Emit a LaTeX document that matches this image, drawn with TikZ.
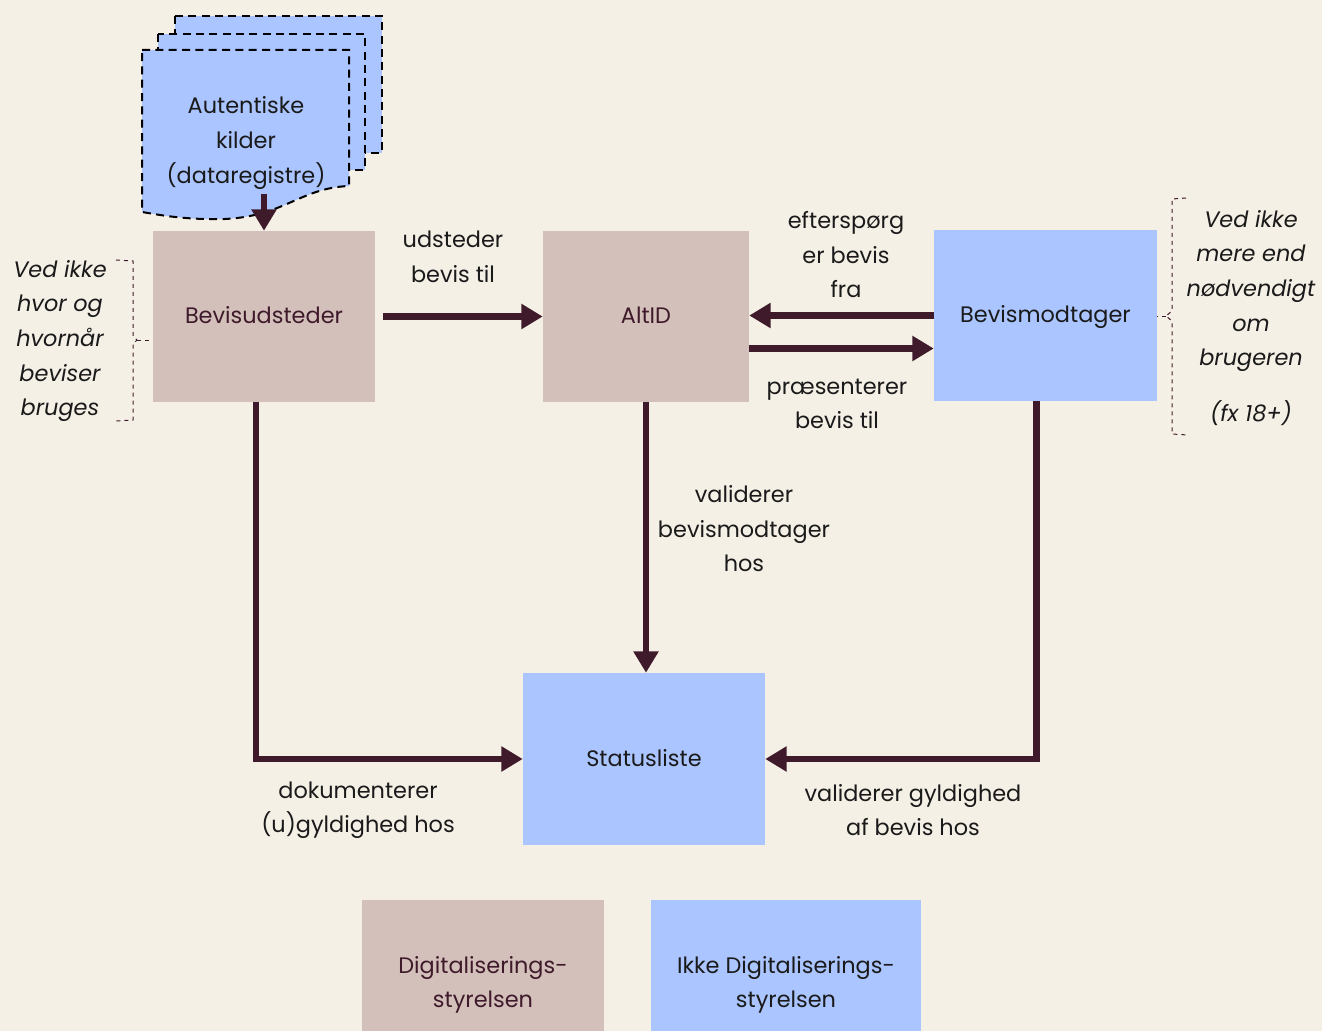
\documentclass[tikz,border=0pt]{standalone}
\usepackage{fontspec}
\setmainfont{Poppins}
\usetikzlibrary{arrows.meta,positioning,calc}
\definecolor{bgcol}{HTML}{F5F0E6}
\definecolor{brunbg}{HTML}{D3C0BB}
\definecolor{blaabg}{HTML}{AAC5FF}
\definecolor{pil}{HTML}{3F1A2A}
\definecolor{tekst}{HTML}{1A1A1A}
\tikzset{
  basefont/.style={font=\fontsize{16.8pt}{25.9pt}\selectfont},
  intern/.style={basefont, fill=brunbg, text=pil, align=center, minimum height=128.25pt, inner sep=0pt},
  ekstern/.style={basefont, fill=blaabg, text=tekst, align=center, minimum height=128.25pt, inner sep=0pt},
  enlinje/.style={text height=1.1em, text depth=0pt},
  lbl/.style={basefont, align=center, text=tekst},
  note/.style={font=\fontsize{16.8pt}{25.9pt}\selectfont\itshape, align=center, text=tekst},
  pilvej/.style={-{Triangle[length=16pt,width=18pt]}, line width=5pt, draw=pil},
  kant/.style={draw=pil, dashed, line width=0.75pt},
  ark/.style={fill=blaabg, draw=black, line width=1.5pt, dash pattern=on 6pt off 4pt},
}

\begin{document}
\begin{tikzpicture}[x=0.75pt, y=-0.75pt]
\fill[bgcol] (0,0) rectangle (1322,1031);
\useasboundingbox (0,0) rectangle (1322,1031);

% kilder (stak af dokumenter)
\draw[ark] (175,16) rectangle (382,153);
\draw[ark] (158,34) rectangle (365,170);
\draw[ark] (142,50) -- (349,50) -- (349,186)
  .. controls (300,188) and (285,216) .. (225,219)
  .. controls (185,220) and (160,215) .. (142,212) -- cycle;
\node[lbl] (kilder) at (246,143) {Autentiske\\kilder\\(dataregistre)};
\coordinate (kilderbund) at (264,194);

% aktoerer
\node[intern, enlinje, minimum width=166.5pt] (udsteder) at (264,316.5) {Bevisudsteder};
\node[intern, enlinje, minimum width=154.5pt] (altid) at (646,316.5) {AltID};
\node[ekstern, enlinje, minimum width=167.25pt] (modtager) at (1045.5,315.5) {Bevismodtager};
\node[ekstern, enlinje, minimum width=181.5pt, minimum height=129pt] (status) at (644,759) {Statusliste};

% forklaring
\node[intern, minimum width=181.5pt, minimum height=127.5pt] (digst) at (483,985) {Digitaliserings-\\styrelsen};
\node[ekstern, minimum width=202.5pt, minimum height=127.5pt] (ikkedigst) at (786,985) {Ikke Digitaliserings-\\styrelsen};

% pile
\draw[pilvej] (kilderbund) -- (udsteder.north);
\draw[pilvej] ([xshift=6pt]udsteder.east) -- (altid.west);
\draw[pilvej] (modtager.west) -- (modtager.west -| altid.east);
\draw[pilvej] ([yshift=-24pt]altid.east) -- ([yshift=-24pt]altid.east -| modtager.west);
\draw[pilvej] (altid.south) -- (altid.south |- status.north);
\draw[pilvej] ([xshift=-6pt]udsteder.south) |- (status.west);
\draw[pilvej] ([xshift=-7pt]modtager.south) |- (status.east);

% tekster paa pile
\node[lbl] (udstlbl) at (453,257) {udsteder\\bevis til};
\node[lbl] (spoerglbl) at (846,255) {efterspørg\\er bevis\\fra};
\node[lbl] (praeslbl) at (837,404) {præsenterer\\bevis til};
\node[lbl] (validlbl) at (744,529) {validerer\\bevismodtager\\hos};
\node[lbl] (doklbl) at (358,810) {dokumenterer\\(u)gyldighed hos};
\node[lbl] (gyldlbl) at (913,810) {validerer gyldighed\\af bevis hos};

% noter
\node[note] (venstrenote) at (60,341) {Ved ikke\\hvor og\\hvornår\\beviser\\bruges};
\node[note] (hoejrenote) at (1251,318) {Ved ikke\\mere end\\nødvendigt\\om\\brugeren\\[16pt](fx 18+)};
\draw[kant] (116,260) -- (133,261) -- (133,336) -- (137,340) -- (133,344) -- (133,420) -- (116,421);
\draw[kant] (137,340) -- (udsteder.west |- 0,340);
\draw[kant] (1186,198) -- (1172,199) -- (1172,311) -- (1166,316) -- (1172,321) -- (1172,434) -- (1188,435);
\draw[kant] (1166,316) -- (modtager.east |- 0,316);
\end{tikzpicture}
\end{document}
